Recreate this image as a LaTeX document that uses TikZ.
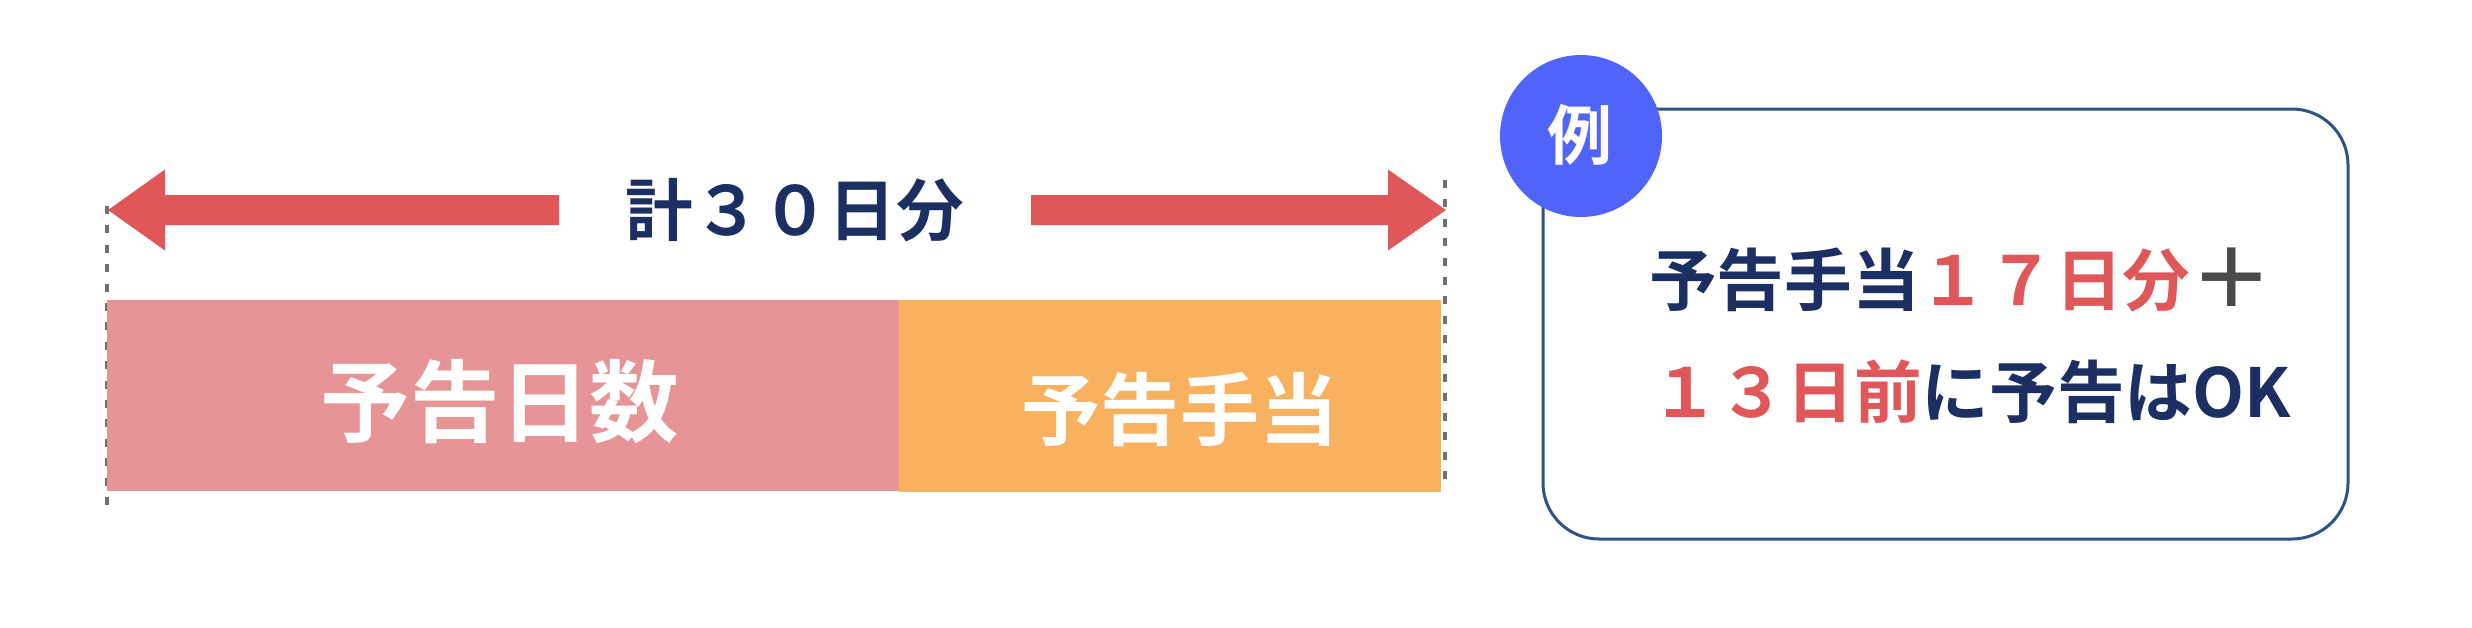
\documentclass[tikz,border=0pt]{standalone}
\usepackage{fontspec}
\setmainfont{Noto Sans CJK JP}[BoldFont=Noto Sans CJK JP Bold]
\definecolor{arrowred}{HTML}{E05759}
\definecolor{pinkbar}{HTML}{E69496}
\definecolor{orangebar}{HTML}{F8B15E}
\definecolor{navy}{HTML}{1B2F63}
\definecolor{boxline}{HTML}{2F5389}
\definecolor{circblue}{HTML}{5064FA}
\definecolor{plusgray}{HTML}{4A4A4A}
\definecolor{dashgray}{HTML}{707070}
\begin{document}
\begin{tikzpicture}[x=0.02cm,y=-0.02cm,
  txt/.style={inner sep=0pt,anchor=center,font=\bfseries},
  guide/.style={draw=dashgray,line width=4*0.5691pt,dash pattern=on 8*0.5691pt off 11.4*0.5691pt},
  blockarrow/.style={fill=arrowred,draw=none}]
\useasboundingbox (0,0) rectangle (2472,627);
% guide lines
\coordinate (gl1) at (106.5,206);
\coordinate (gl2) at (106.5,516);
\coordinate (gr1) at (1445,180);
\coordinate (gr2) at (1445,490);
\draw[guide] (gl1) -- (gl2);
\draw[guide] (gr1) -- (gr2);
% bars
\fill[pinkbar] (107,300) rectangle (899,491);
\fill[orangebar] (899,300) rectangle (1441,492);
\node[txt,text=white,font=\bfseries\fontsize{51}{51}\selectfont] (yokokunissu) at (500,402) {予告日数};
\node[txt,text=white,font=\bfseries\fontsize{45}{45}\selectfont] (yokokuteate) at (1180,409) {予告手当};
% arrows
\path[blockarrow] (559,195) -- (165,195) -- (165,169.5) -- (108,210) -- (165,250.5) -- (165,225) -- (559,225) -- cycle;
\path[blockarrow] (1031,195) -- (1388,195) -- (1388,169.5) -- (1446,210) -- (1388,250.5) -- (1388,225) -- (1031,225) -- cycle;
\node[txt,text=navy,font=\bfseries\fontsize{38.5}{38.5}\selectfont] (total) at (795,210) {計３０日分};
% example box
\draw[boxline,line width=3*0.5691pt,rounded corners=56*0.5691pt] (1543,109) rectangle (2348,539);
\fill[circblue] (1581,136) circle (81);
\node[txt,text=white,font=\bfseries\fontsize{37}{37}\selectfont] (rei) at (1580,135) {例};
\node[txt,font=\bfseries\fontsize{38.5}{38.5}\selectfont] (line1) at (1961,280)
  {\textcolor{navy}{予告手当}\textcolor{arrowred}{１７日分}\textcolor{plusgray}{\raisebox{-1.5pt}{\fontsize{47}{47}\selectfont ＋}}};
\node[txt,font=\bfseries\fontsize{38.5}{38.5}\selectfont] (line2) at (1971,392)
  {\textcolor{arrowred}{１３日前}\textcolor{navy}{に予告はOK}};
\end{tikzpicture}
\end{document}
